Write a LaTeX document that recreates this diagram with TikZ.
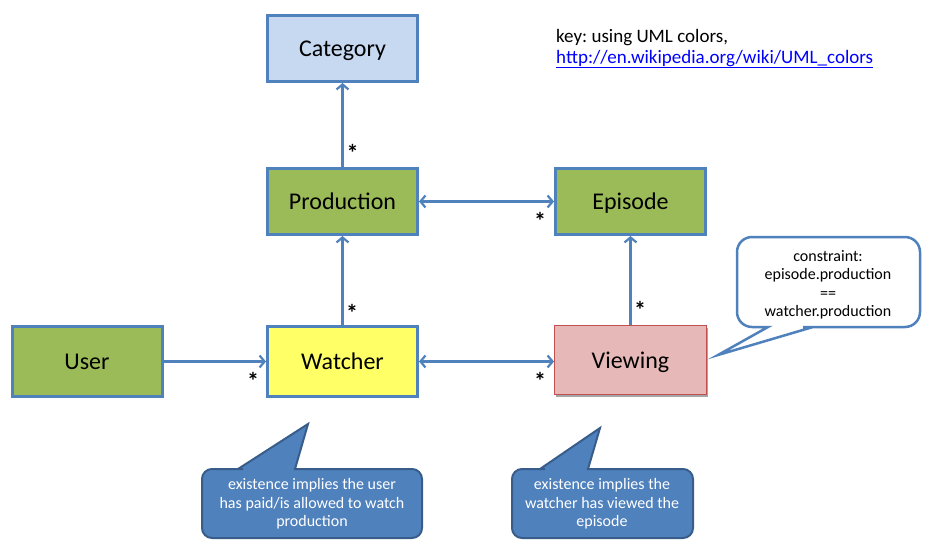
\documentclass[tikz,border=0pt]{standalone}
\usepackage{fontspec}
\setmainfont{Carlito}
\usetikzlibrary{arrows.meta,shadows}
\definecolor{umlblue}{HTML}{4F81BD}
\definecolor{catfill}{HTML}{C6D9F1}
\definecolor{prodgreen}{HTML}{9BBB59}
\definecolor{watchyellow}{HTML}{FFFF66}
\definecolor{viewfill}{HTML}{E6B9B8}
\definecolor{viewborder}{HTML}{C0504D}
\definecolor{calloutborder}{HTML}{385D8A}
\definecolor{linkblue}{HTML}{0000FF}
\frenchspacing
\begin{document}
\begin{tikzpicture}[x=1pt,y=-1pt,
  umlbox/.style={draw=umlblue, line width=3pt, minimum width=150pt, minimum height=66pt, inner sep=0pt,
                 text height=17pt, text depth=1pt, font=\fontsize{24}{28}\selectfont},
  connector/.style={draw=umlblue, line width=2.2pt},
  headend/.style={-{Straight Barb[length=5pt,width=12pt,line width=2.2pt]}},
  headboth/.style={{Straight Barb[length=5pt,width=12pt,line width=2.2pt]}-{Straight Barb[length=5pt,width=12pt,line width=2.2pt]}},
  mult/.style={font=\fontsize{24}{26}\selectfont\bfseries, inner sep=0pt, anchor=base},
  notetext/.style={font=\fontsize{16}{18.5}\selectfont, align=center, inner sep=0pt},
  bluenote/.style={fill=umlblue, draw=calloutborder, line width=2pt, line join=miter},
  whitenote/.style={fill=white, draw=umlblue, line width=2.5pt, line join=miter}
]
\useasboundingbox (0,0) rectangle (930,549);

% classes
\node[umlbox, fill=catfill] (cat) at (342.5,48.5) {Category};
\node[umlbox, fill=prodgreen] (prod) at (342.5,201.5) {Production};
\node[umlbox, fill=prodgreen] (epi) at (630.5,201.5) {Episode};
\node[umlbox, fill=prodgreen, minimum height=70pt] (user) at (87,361.5) {User};
\node[umlbox, fill=watchyellow, minimum height=70pt] (watch) at (342.5,361.5) {Watcher};
\node[umlbox, fill=viewfill, draw=viewborder, line width=1pt, minimum width=152pt, minimum height=69pt,
      drop shadow={shadow xshift=1.5pt, shadow yshift=-2.5pt, opacity=0.35, fill=black}] (view) at (630.5,360) {Viewing};

% associations
\draw[connector, headend] (prod) -- (cat);
\draw[connector, headend] (watch) -- (prod);
\draw[connector, headboth] (prod) -- (epi);
\draw[connector, headend] (user) -- (watch);
\draw[connector, headboth] (watch.east) -- (view.west |- watch.east);
\draw[connector, headend] (view) -- (epi);

% multiplicities
\node[mult] (m1) at (352.5,161) {*};
\node[mult] (m2) at (352,321) {*};
\node[mult] (m3) at (540,229) {*};
\node[mult] (m4) at (253,389) {*};
\node[mult] (m5) at (540,389) {*};
\node[mult] (m6) at (640,318) {*};

% key
\node[anchor=base west, inner sep=0pt, font=\fontsize{19}{22}\selectfont] (key) at (556,42) {key: using UML colors,};
\node[anchor=base west, inner sep=0pt, font=\fontsize{19}{22}\selectfont, text=linkblue] (link) at (556,63) {\underline{http://en.wikipedia.org/wiki/UML\_colors}};

% callout 1
\filldraw[bluenote] (308,424) -- (295,469) -- (300,469) [rounded corners=10pt] -- (422,469) -- (422,538) -- (202,538) -- (202,469) -- (233,469) [sharp corners] -- (238,469) -- cycle;
\node[notetext, text=white] (note1) at (312,504) {existence implies the user\\has paid/is allowed to watch\\production};

% callout 2
\filldraw[bluenote] (600,428) -- (588,469) -- (593,469) [rounded corners=10pt] -- (693,469) -- (693,538) -- (512,538) -- (512,469) -- (535,469) [sharp corners] -- (540,469) -- cycle;
\node[notetext, text=white] (note2) at (602,504) {existence implies the\\watcher has viewed the\\episode};

% constraint callout
\filldraw[whitenote] (718,355) -- (768,327) -- (763,327) [rounded corners=15pt] -- (737,327) -- (737,237) -- (920,237) -- (920,327) -- (818,327) [sharp corners] -- (813,327) -- cycle;
\node[notetext, text=black] (note3) at (828,285) {constraint:\\episode.production\\==\\watcher.production};
\end{tikzpicture}
\end{document}
